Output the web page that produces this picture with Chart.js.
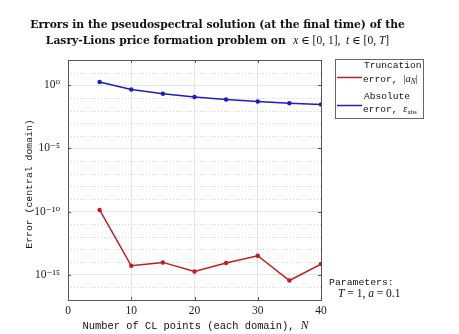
<!DOCTYPE html>
<html><head><meta charset="utf-8">
<script src="https://cdn.jsdelivr.net/npm/chart.js@4/dist/chart.umd.min.js"></script>
<style>html,body{margin:0;padding:0;background:#fff}#wrap{width:459px;height:334px;position:relative}</style>
</head><body><div id="wrap"><canvas id="c" width="459" height="334"></canvas></div>
<script>
// ---- data ----
const N_POINTS = [5, 10, 15, 20, 25, 30, 35, 40];
const TRUNCATION_ERROR = [1.35e-10, 5.1e-15, 9.5e-15, 1.8e-15, 8.4e-15, 3.2e-14, 3.5e-16, 7.0e-15];
const ABSOLUTE_ERROR = [1.8, 0.46, 0.21, 0.12, 0.074, 0.051, 0.038, 0.030];
const X_TICKS = [0, 10, 20, 30, 40];
const Y_DECADES = [-17, -16, -15, -14, -13, -12, -11, -10, -9, -8, -7, -6, -5, -4, -3, -2, -1, 0, 1, 2];
const Y_LABELED = [-15, -10, -5, 0];
const SUP = {'0':'⁰','1':'¹','2':'²','3':'³','4':'⁴','5':'⁵','6':'⁶','7':'⁷','8':'⁸','9':'⁹','-':'⁻'};

const SERIF = "'Liberation Serif', 'DejaVu Serif', serif";
const TSERIF = "'DejaVu Serif', 'Liberation Serif', serif";
const MONO = "'Liberation Mono', 'DejaVu Sans Mono', monospace";
const RED = 'rgb(190,30,36)';
const BLUE = 'rgb(30,30,190)';

function runsWidth(ctx, runs) {
  let w = 0;
  for (const r of runs) { ctx.font = r.font; w += ctx.measureText(r.t).width; }
  return w;
}
function drawRuns(ctx, runs, x, y, align) {
  let w = runsWidth(ctx, runs);
  let cx = align === 'center' ? x - w / 2 : x;
  ctx.textBaseline = 'alphabetic';
  ctx.textAlign = 'left';
  for (const r of runs) {
    ctx.font = r.font;
    ctx.fillStyle = r.color || '#111';
    ctx.fillText(r.t, cx, y + (r.dy || 0));
    cx += ctx.measureText(r.t).width;
  }
}

const decor = {
  id: 'decor',
  beforeDatasetsDraw(chart) {
    const ctx = chart.ctx, a = chart.chartArea, ys = chart.scales.y;
    ctx.save();
    ctx.strokeStyle = '#d2d2d2';
    ctx.lineWidth = 1;
    ctx.setLineDash([1, 2]);
    for (const k of Y_DECADES) {
      if (Y_LABELED.includes(k)) continue;
      const py = Math.round(ys.getPixelForValue(Math.pow(10, k))) + 0.5;
      if (py <= a.top + 1 || py >= a.bottom - 1) continue;
      ctx.beginPath(); ctx.moveTo(a.left, py); ctx.lineTo(a.right, py); ctx.stroke();
    }
    ctx.restore();
  },
  afterDatasetsDraw(chart) {
    const ctx = chart.ctx, a = chart.chartArea, xs = chart.scales.x, ys = chart.scales.y;
    ctx.save();
    // plot frame
    ctx.strokeStyle = '#555';
    ctx.lineWidth = 1;
    ctx.strokeRect(Math.round(a.left) + 0.5, Math.round(a.top) + 0.5, Math.round(a.right - a.left), Math.round(a.bottom - a.top));
    // inner tick marks
    ctx.beginPath();
    for (const k of Y_LABELED) {
      const py = Math.round(ys.getPixelForValue(Math.pow(10, k))) + 0.5;
      ctx.moveTo(a.left, py); ctx.lineTo(a.left + 3, py);
      ctx.moveTo(a.right, py); ctx.lineTo(a.right - 3, py);
    }
    for (const v of X_TICKS) {
      const px = Math.round(xs.getPixelForValue(v)) + 0.5;
      ctx.moveTo(px, a.bottom); ctx.lineTo(px, a.bottom - 3);
      ctx.moveTo(px, a.top); ctx.lineTo(px, a.top + 3);
    }
    ctx.stroke();

    // title
    const tf = (s) => 'bold ' + s + 'px ' + TSERIF;
    const line1 = 'Errors in the pseudospectral solution (at the final time) of the';
    ctx.font = tf(12);
    const size = 12 * 375 / ctx.measureText(line1).width;
    drawRuns(ctx, [{t: line1, font: tf(size)}], 217.5, 27.5, 'center');
    const mi = 'italic 11.5px ' + SERIF;
    const mr = '11.5px ' + SERIF;
    drawRuns(ctx, [
      {t: 'Lasry-Lions price formation problem on  ', font: tf(size)},
      {t: 'x', font: mi}, {t: ' ∈ [0, 1],  ', font: mr},
      {t: 't', font: mi}, {t: ' ∈ [0, ', font: mr},
      {t: 'T', font: mi}, {t: ']', font: mr}
    ], 217.5, 43.5, 'center');

    // axis titles
    drawRuns(ctx, [
      {t: 'Number of CL points (each domain), ', font: '10.4px ' + MONO},
      {t: 'N', font: 'italic 11.5px ' + SERIF}
    ], (a.left + a.right) / 2 + 1, 329, 'center');
    ctx.save();
    ctx.translate(32, 184);
    ctx.rotate(-Math.PI / 2);
    drawRuns(ctx, [{t: 'Error (central domain)', font: '9.8px ' + MONO}], 0, 0, 'center');
    ctx.restore();

    // legend
    const lx = 335.5, ly = 59.5, lw = 88, lh = 59;
    ctx.fillStyle = '#fff';
    ctx.fillRect(lx, ly, lw, lh);
    ctx.strokeStyle = '#666';
    ctx.strokeRect(lx, ly, lw, lh);
    const lm = '9.6px ' + MONO;
    ctx.lineWidth = 1.5;
    ctx.strokeStyle = RED;
    ctx.beginPath(); ctx.moveTo(337, 77.5); ctx.lineTo(362, 77.5); ctx.stroke();
    ctx.strokeStyle = BLUE;
    ctx.beginPath(); ctx.moveTo(337, 105.5); ctx.lineTo(362, 105.5); ctx.stroke();
    drawRuns(ctx, [{t: 'Truncation', font: lm}], 364, 67.5, 'left');
    drawRuns(ctx, [
      {t: 'error, ', font: lm},
      {t: '|', font: '10.5px ' + SERIF},
      {t: 'a', font: 'italic 10.5px ' + SERIF},
      {t: 'N', font: 'italic 7.5px ' + SERIF, dy: 2},
      {t: '|', font: '10.5px ' + SERIF}
    ], 363, 82, 'left');
    drawRuns(ctx, [{t: 'Absolute', font: lm}], 364, 98.5, 'left');
    drawRuns(ctx, [
      {t: 'error, ', font: lm},
      {t: 'ε', font: 'italic 10.5px ' + SERIF},
      {t: 'abs', font: '7px ' + SERIF, dy: 2}
    ], 363, 111.5, 'left');

    // parameters note
    drawRuns(ctx, [{t: 'Parameters:', font: '9.8px ' + MONO}], 329, 284.5, 'left');
    drawRuns(ctx, [
      {t: 'T', font: 'italic 11.5px ' + SERIF}, {t: ' = 1, ', font: '11.5px ' + SERIF},
      {t: 'a', font: 'italic 11.5px ' + SERIF}, {t: ' = 0.1', font: '11.5px ' + SERIF}
    ], 338, 297, 'left');
    ctx.restore();
  }
};

new Chart(document.getElementById('c'), {
  type: 'line',
  data: {
    datasets: [
      {
        label: 'Truncation error, |a_N|',
        data: N_POINTS.map((n, i) => ({x: n, y: TRUNCATION_ERROR[i]})),
        borderColor: RED, backgroundColor: RED,
        borderWidth: 1.5, pointRadius: 1.5, pointHoverRadius: 1.5, tension: 0
      },
      {
        label: 'Absolute error, ε_abs',
        data: N_POINTS.map((n, i) => ({x: n, y: ABSOLUTE_ERROR[i]})),
        borderColor: BLUE, backgroundColor: BLUE,
        borderWidth: 1.5, pointRadius: 1.5, pointHoverRadius: 1.5, tension: 0
      }
    ]
  },
  options: {
    responsive: false,
    animation: false,
    devicePixelRatio: 1,
    events: [],
    layout: {padding: {top: 60, right: 138, bottom: 14, left: 0}},
    plugins: {legend: {display: false}, title: {display: false}, tooltip: {enabled: false}},
    scales: {
      x: {
        type: 'linear', min: 0, max: 40,
        afterBuildTicks: (s) => { s.ticks = X_TICKS.map(v => ({value: v})); },
        afterFit: (s) => { s.height = 20; },
        grid: {color: (c) => (c.tick && (c.tick.value === 0 || c.tick.value === 40)) ? 'rgba(0,0,0,0)' : '#e4e4e4', drawTicks: false},
        border: {display: false},
        ticks: {font: {family: SERIF, size: 11.5}, color: '#222', padding: 4, maxRotation: 0}
      },
      y: {
        type: 'logarithmic', min: 1e-17, max: 1e2,
        afterBuildTicks: (s) => { s.ticks = Y_DECADES.map(k => ({value: Math.pow(10, k)})); },
        afterFit: (s) => { s.width = 68; },
        grid: {
          color: (c) => {
            if (!c.tick) return 'rgba(0,0,0,0)';
            const k = Math.round(Math.log10(c.tick.value));
            return Y_LABELED.includes(k) ? '#e4e4e4' : 'rgba(0,0,0,0)';
          },
          drawTicks: false
        },
        border: {display: false},
        ticks: {
          font: {family: SERIF, size: 11.5}, color: '#222', padding: 8, autoSkip: false,
          callback: (v) => {
            const k = Math.round(Math.log10(v));
            if (!Y_LABELED.includes(k)) return '';
            return '10' + String(k).split('').map(ch => SUP[ch]).join('');
          }
        }
      }
    }
  },
  plugins: [decor]
});
</script></body></html>
